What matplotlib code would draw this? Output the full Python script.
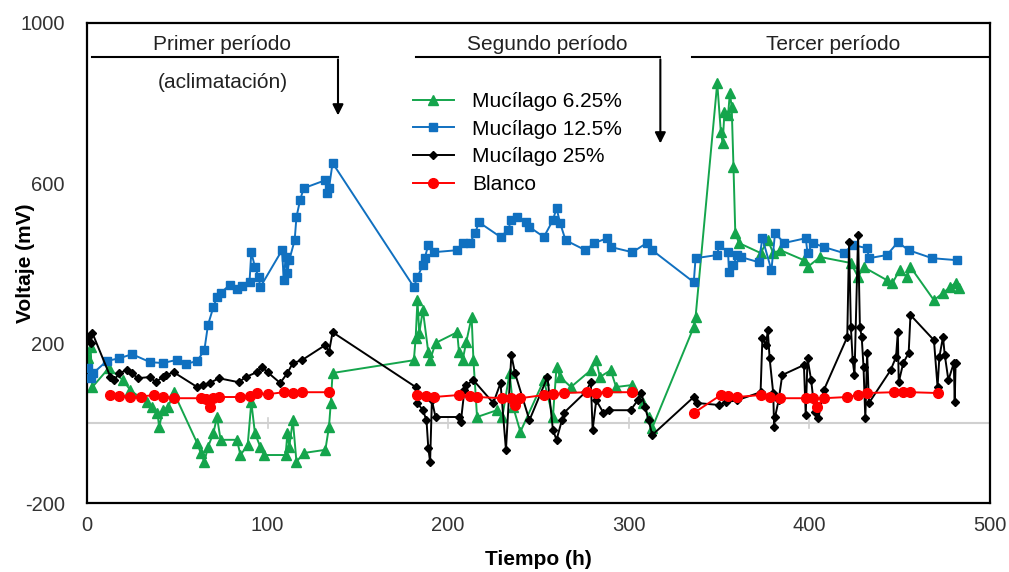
import numpy as np
import matplotlib
matplotlib.use("Agg")
from matplotlib import pyplot as plt

plt.rcParams['font.family'] = ['Liberation Sans', 'DejaVu Sans']
plt.rcParams['axes.unicode_minus'] = False

# Mucilago 6.25% (green)
t_green = [0.5, 2, 3, 12, 20, 24, 33, 36, 39, 40, 42, 45, 48, 61, 63, 65, 67, 70, 72, 74,
           83, 85, 89, 91, 93, 96, 98, 110, 111, 112, 114, 116, 120, 132, 134, 135, 136,
           181, 182, 183, 184, 186, 189, 190, 193, 205, 206, 208, 210, 213, 214, 216, 227,
           230, 234, 236, 240, 253, 258, 260, 262, 268, 279, 282, 284, 290, 293, 302, 308,
           311, 313, 336, 337, 349, 351, 352, 353, 355, 356, 357, 358, 359, 361, 373, 377,
           380, 384, 397, 399, 406, 423, 427, 430, 443, 446, 450, 454, 456, 469, 474, 478,
           481, 483]
v_green = [162, 190, 90, 137, 107, 82, 52, 40, 25, -10, 32, 40, 77, -50, -75, -97, -60, -25, 15, -42,
           -42, -80, -55, 52, -25, -60, -80, -80, -25, -60, 7, -97, -75, -67, -10, 50, 125,
           157, 212, 307, 225, 282, 177, 157, 200, 227, 177, 157, 202, 265, 157, 15, 32,
           15, 125, 40, -22, 107, 15, 140, 115, 90, 132, 157, 115, 132, 90, 95, 50,
           15, -12, 240, 265, 850, 727, 700, 777, 770, 825, 790, 640, 475, 450, 425, 457,
           425, 432, 407, 390, 415, 400, 365, 390, 357, 350, 382, 365, 390, 307, 325, 340,
           350, 337]

# Mucilago 12.5% (blue)
t_blue = [0.5, 2, 3.5, 11, 18, 25, 35, 42, 50, 55, 61, 65, 67, 70, 72, 74, 79, 83, 86, 90,
          91, 93, 95, 96, 108, 109, 110, 111, 112, 115, 116, 118, 120, 132, 133, 134, 136,
          181, 183, 186, 187, 189, 192, 205, 208, 212, 215, 217, 229, 233, 235, 238, 243,
          245, 253, 258, 260, 262, 265, 276, 281, 288, 290, 302, 310, 313, 336, 337, 349,
          350, 355, 355.5, 358, 360, 362, 372, 374, 379, 381, 386, 398, 399, 402, 408, 419,
          424, 432, 433, 443, 449, 455, 468, 482]
v_blue = [137, 112, 125, 155, 162, 172, 152, 150, 158, 148, 155, 182, 245, 290, 315, 325, 345, 335, 342, 352,
          427, 390, 365, 340, 432, 357, 415, 375, 407, 457, 515, 557, 587, 607, 575, 587, 650,
          340, 365, 395, 412, 445, 427, 432, 450, 450, 475, 502, 465, 482, 507, 515, 502,
          490, 465, 507, 537, 500, 457, 432, 450, 462, 440, 427, 450, 432, 352, 412, 420,
          445, 427, 377, 395, 420, 415, 402, 462, 382, 475, 450, 462, 425, 450, 440, 425,
          445, 437, 412, 420, 452, 432, 412, 407]

# Mucilago 25% (black)
t_black = [0.5, 2, 3, 13, 15, 18, 22, 25, 28, 35, 38, 42, 44, 48, 61, 64, 68, 73, 84, 88,
           94, 97, 100, 107, 111, 114, 119, 132, 134, 136, 182, 183, 186, 188, 189, 190, 191,
           193, 206, 207, 209, 210, 214, 225, 229, 232, 235, 237, 245, 255, 258, 260, 263,
           264, 276, 279, 280, 282, 286, 289, 301, 305, 307, 309, 311, 313, 336, 338, 350,
           354, 360, 373, 374, 376, 377, 378, 380, 380.5, 381, 383, 385, 397, 398, 399, 401,
           403, 405, 408, 421, 422, 423, 424, 425, 427, 428, 429, 430, 431, 432, 433, 445,
           448, 449, 449.5, 452, 455, 456, 469, 471, 472, 474, 475, 477, 480, 480.5, 481]
v_black = [215, 200, 225, 115, 107, 125, 132, 125, 112, 115, 102, 115, 120, 127, 90, 95, 100, 112, 102, 115,
           127, 140, 127, 100, 125, 150, 157, 195, 177, 227, 90, 50, 32, 7, -62, -97, 57,
           15, 15, 2, 82, 95, 107, 50, 100, -67, 170, 125, 7, 115, -17, -42, 7,
           25, 77, 102, -17, 57, 25, 32, 32, 57, 75, 40, 7, -30, 65, 50, 45,
           52, 57, 77, 212, 195, 232, 162, 75, -10, 15, 57, 120, 145, 20, 162, 107,
           27, 12, 82, 215, 452, 240, 157, 120, 470, 240, 215, 140, 12, 175, 50, 132,
           165, 227, 102, 150, 175, 270, 207, 90, 165, 215, 170, 107, 150, 52, 150]

# Blanco (red), gaps between periods
t_red = [13, 18, 24, 30, 37, 42, 48, 63, 66, 68, 70, 73, 85, 90, 94, 100, 109, 114, 119, 134, np.nan,
         183, 188, 192, 206, 212, 216, 230, 235, 237, 240, 253, 258, 264, 277, 282, 288, 302, np.nan,
         336, 351, 355, 360, 373, 378, 384, 398, 402, 404, 408, 421, 427, 432, 447, 452, 456, 471]
v_red = [70, 68, 65, 66, 70, 66, 62, 62, 60, 40, 62, 65, 65, 68, 75, 72, 77, 76, 77, 77, np.nan,
         70, 68, 65, 70, 68, 65, 62, 63, 45, 62, 70, 72, 75, 77, 76, 77, 77, np.nan,
         25, 70, 68, 65, 70, 66, 62, 62, 63, 40, 62, 65, 70, 75, 77, 77, 77, 75]

labels = ['Mucílago 6.25%', 'Mucílago 12.5%', 'Mucílago 25%', 'Blanco']
periods = ['Primer período', 'Segundo período', 'Tercer período']

fig = plt.figure(figsize=(10.09, 5.72), dpi=100)
ax = fig.add_axes([0.0862, 0.1206, 0.8949, 0.8392])

ax.axhline(0, color='#d0d0d0', lw=1.5, zorder=1)
for xt in [100, 200, 300, 400]:
    ax.plot([xt, xt], [-12, 12], color='#d0d0d0', lw=1.2, zorder=1)

ax.plot(t_green, v_green, color='#14a54c', marker='^', ms=6.5, lw=1.4, label=labels[0], zorder=2)
ax.plot(t_blue, v_blue, color='#1070c0', marker='s', ms=6, lw=1.4, label=labels[1], zorder=3)
ax.plot(t_black, v_black, color='black', marker='D', ms=4.3, lw=1.4, label=labels[2], zorder=4)
ax.plot(t_red, v_red, color='#ff0000', marker='o', ms=7, lw=1.4, label=labels[3], zorder=5)

ax.set_xlim(0, 500)
ax.set_ylim(-200, 1000)
ax.set_xticks([0, 100, 200, 300, 400, 500])
ax.set_yticks([-200, 200, 600, 1000])
ax.tick_params(length=0, labelsize=14.5, colors='#333333')
ax.tick_params(axis='y', pad=16)
ax.tick_params(axis='x', pad=9)
for s in ax.spines.values():
    s.set_linewidth(1.6)
    s.set_color('black')

ax.set_xlabel('Tiempo (h)', fontsize=15, fontweight='bold')
ax.set_ylabel('Voltaje (mV)', fontsize=15, fontweight='bold')
ax.xaxis.set_label_coords(0.5, -0.098)
ax.yaxis.set_label_coords(-0.058, 0.5)

# period annotations
ax.text(75, 947, periods[0], ha='center', va='center', fontsize=15, color='#222222')
ax.text(75, 850, '(aclimatación)', ha='center', va='center', fontsize=15, color='#222222')
ax.plot([3, 139], [915, 915], color='black', lw=1.5)
ax.annotate('', xy=(139, 762), xytext=(139, 916),
            arrowprops=dict(arrowstyle='-|>', color='black', lw=1.5, mutation_scale=16))
ax.text(255, 947, periods[1], ha='center', va='center', fontsize=15, color='#222222')
ax.plot([182, 317.5], [915, 915], color='black', lw=1.5)
ax.annotate('', xy=(317.5, 692), xytext=(317.5, 916),
            arrowprops=dict(arrowstyle='-|>', color='black', lw=1.5, mutation_scale=16))
ax.text(413, 947, periods[2], ha='center', va='center', fontsize=15, color='#222222')
ax.plot([335, 500], [915, 915], color='black', lw=1.5)

ax.legend(loc='upper left', bbox_to_anchor=(0.349, 0.878), frameon=False, fontsize=15,
          handlelength=2.0, handletextpad=0.85, labelspacing=0.42, borderpad=0)

fig.savefig('out.png', dpi=100)
